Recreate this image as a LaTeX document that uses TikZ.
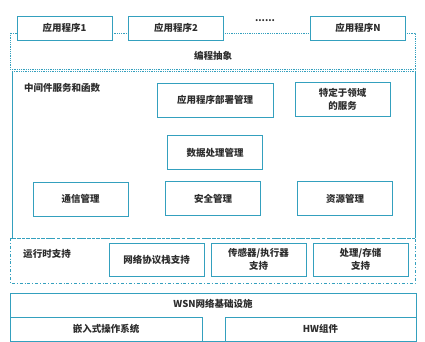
\documentclass[tikz,border=0pt]{standalone}
\usepackage{fontspec}
\setmainfont{Noto Sans CJK SC}
\definecolor{wsnblue}{RGB}{52,160,190}
\definecolor{wsntext}{RGB}{45,45,45}

\begin{document}
\begin{tikzpicture}[x=1pt,y=-1pt,line width=.8pt,
  modbox/.style={draw=wsnblue,fill=white,text=wsntext,minimum width=95pt,minimum height=34pt,inner sep=1pt,align=center,font=\fontsize{9.5}{13}\selectfont\bfseries},
  layerlabel/.style={text=wsntext,inner sep=1pt,font=\fontsize{9.5}{12}\selectfont\bfseries}]
\path[use as bounding box,fill=white] (0,0) rectangle (425,342);
% layers
\draw[wsnblue,densely dotted] (10,33) rectangle (415,69);
\node[layerlabel] (prog) at (213,56) {编程抽象};
\draw[wsnblue,densely dotted] (12,71) -- (415,71);
\draw[wsnblue] (12,71) -- (12,238);
\draw[wsnblue] (415,71) -- (415,238);
\draw[wsnblue,densely dashed] (12,238) -- (415,238);
\node[layerlabel] (mid) at (62,88) {中间件服务和函数};
\draw[wsnblue,dash dot] (10,238) rectangle (415,283);
\node[layerlabel] (rt) at (47,254) {运行时支持};
\draw[wsnblue] (10,293) rectangle (416,341);
\node[layerlabel] (wsn) at (213,304) {WSN网络基础设施};
% applications
\node[modbox,minimum height=24pt] (app1) at (64.5,28) {应用程序1};
\node[modbox,minimum height=24pt] (app2) at (176,28) {应用程序2};
\node[layerlabel] (dots) at (265,21) {......};
\node[modbox,minimum height=24pt] (appN) at (358,28) {应用程序N};
% middleware
\node[modbox,minimum width=116pt] (deploy) at (215,100) {应用程序部署管理};
\node[modbox] (domain) at (342.5,99.5) {特定于领域\\的服务};
\node[modbox] (data) at (215,152.5) {数据处理管理};
\node[modbox] (comm) at (80.5,199) {通信管理};
\node[modbox] (sec) at (213,198.5) {安全管理};
\node[modbox] (res) at (345,198.5) {资源管理};
% runtime
\node[modbox,minimum height=33pt] (net) at (156.5,259.5) {网络协议栈支持};
\node[modbox,minimum height=33pt] (sensor) at (258.5,259.5) {传感器/执行器\\支持};
\node[modbox,minimum height=33pt] (proc) at (360.5,259.5) {处理/存储\\支持};
% infrastructure
\node[modbox,minimum width=192pt,minimum height=24pt] (os) at (106,329) {嵌入式操作系统};
\node[modbox,minimum width=191pt,minimum height=24pt] (hw) at (320.5,329) {HW组件};
\end{tikzpicture}
\end{document}
